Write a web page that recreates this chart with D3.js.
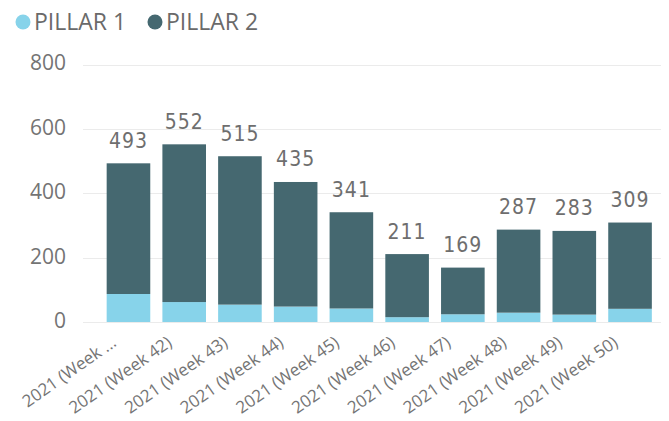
<!DOCTYPE html>
<html>
<head>
<meta charset="utf-8">
<script src="https://cdn.jsdelivr.net/npm/d3@7"></script>
<style>
  html, body { margin: 0; padding: 0; background: #fff; }
  svg { display: block; }
</style>
</head>
<body>
<svg id="chart" width="669" height="421"></svg>
<script>
const categories = ["2021 (Week ...", "2021 (Week 42)", "2021 (Week 43)", "2021 (Week 44)", "2021 (Week 45)",
                    "2021 (Week 46)", "2021 (Week 47)", "2021 (Week 48)", "2021 (Week 49)", "2021 (Week 50)"];
const totals  = [493, 552, 515, 435, 341, 211, 169, 287, 283, 309];
const pillar1 = [87, 62, 54, 48, 42, 15, 24, 29, 23, 41];
const pillar2 = totals.map((t, i) => t - pillar1[i]);
const seriesNames = ["PILLAR 1", "PILLAR 2"];
const seriesColors = ["#87D3EA", "#456870"];
const yTicks = [0, 200, 400, 600, 800];

const svg = d3.select("#chart");
const uiFont = "'Segoe UI', 'Open Sans', sans-serif";
const labelFont = "'Liberation Sans Narrow', 'DejaVu Sans Condensed', 'DejaVu Sans', sans-serif";

const x = d3.scaleBand().domain(categories).range([100.6, 657.9]).paddingInner(0.2177).paddingOuter(0.1088);
const y = d3.scaleLinear().domain([0, 800]).range([322, 64.5]);

// gridlines
svg.append("g").selectAll("line").data(yTicks).join("line")
  .attr("x1", 83).attr("x2", 661)
  .attr("y1", d => Math.round(y(d)) + 0.5).attr("y2", d => Math.round(y(d)) + 0.5)
  .attr("stroke", "#ebebeb").attr("stroke-width", 1);

// y axis
const yAxis = svg.append("g").attr("transform", "translate(66,0)")
  .call(d3.axisLeft(y).tickValues(yTicks).tickSize(0).tickPadding(0));
yAxis.select(".domain").remove();
yAxis.selectAll("text").attr("font-family", uiFont).attr("font-size", 21).attr("fill", "#747474").attr("dy", "0.26em");

// stacked bars
const rows = categories.map((c, i) => ({cat: c, p1: pillar1[i], p2: pillar2[i]}));
const stack = d3.stack().keys(["p1", "p2"])(rows);
svg.append("g").selectAll("g").data(stack).join("g")
  .attr("fill", (d, i) => seriesColors[i])
  .selectAll("rect").data(d => d).join("rect")
  .attr("x", d => x(d.data.cat))
  .attr("width", x.bandwidth())
  .attr("y", d => y(d[1]))
  .attr("height", d => y(d[0]) - y(d[1]));

// total labels
svg.append("g").selectAll("text").data(rows).join("text")
  .attr("x", (d, i) => x(d.cat) + x.bandwidth() / 2)
  .attr("y", (d, i) => y(totals[i]) - 15.5)
  .attr("text-anchor", "middle")
  .attr("font-family", labelFont).attr("font-size", 21)
  .attr("letter-spacing", 1)
  .attr("fill", "#6e6e6e")
  .text((d, i) => totals[i]);

// x axis labels
const xAxis = svg.append("g").attr("transform", "translate(0,322)")
  .call(d3.axisBottom(x).tickSize(0).tickPadding(0));
xAxis.select(".domain").remove();
xAxis.selectAll("text")
  .attr("font-family", uiFont).attr("font-size", 17).attr("fill", "#747474")
  .attr("text-anchor", "end")
  .attr("dy", null).attr("y", 0)
  .attr("transform", "translate(-11,23) rotate(-35)");

// legend
const legendX = [23, 155];
const lg = svg.append("g");
seriesNames.forEach((name, i) => {
  lg.append("circle").attr("cx", legendX[i]).attr("cy", 22).attr("r", 7.5).attr("fill", seriesColors[i]);
  lg.append("text").attr("x", legendX[i] + 11).attr("y", 30)
    .attr("font-family", uiFont).attr("font-size", 23).attr("fill", "#6a6a6a").text(name);
});
</script>
</body>
</html>
